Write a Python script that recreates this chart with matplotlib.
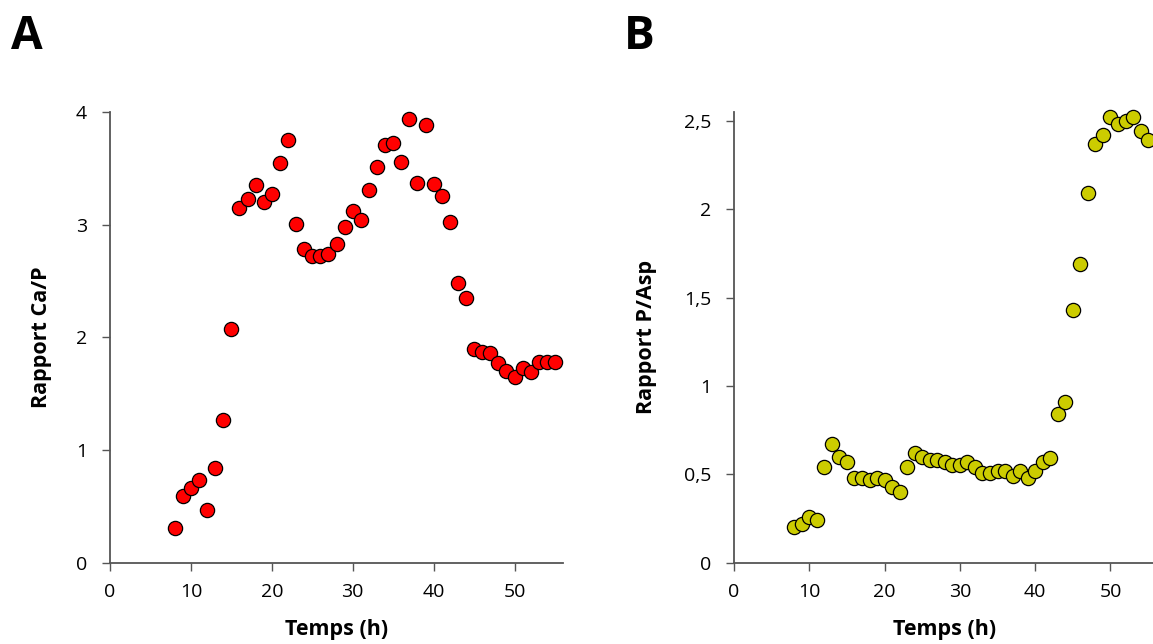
import matplotlib.pyplot as plt

# Panel A : rapport Ca/P
temps_a = list(range(8, 56))
ca_p = [0.31, 0.59, 0.66, 0.73, 0.47, 0.84, 1.27, 2.07, 3.15, 3.23,
        3.35, 3.20, 3.27, 3.55, 3.75, 3.01, 2.78, 2.72, 2.72, 2.74,
        2.83, 2.98, 3.12, 3.04, 3.31, 3.51, 3.71, 3.72, 3.56, 3.94,
        3.37, 3.88, 3.36, 3.25, 3.02, 2.48, 2.35, 1.90, 1.87, 1.86,
        1.77, 1.70, 1.65, 1.73, 1.69, 1.78, 1.78, 1.78]

# Panel B : rapport P/Asp
temps_b = list(range(8, 56))
p_asp = [0.20, 0.22, 0.26, 0.24, 0.54, 0.67, 0.60, 0.57, 0.48, 0.48,
         0.47, 0.48, 0.47, 0.43, 0.40, 0.54, 0.62, 0.60, 0.58, 0.58,
         0.57, 0.55, 0.55, 0.57, 0.54, 0.51, 0.51, 0.52, 0.52, 0.49,
         0.52, 0.48, 0.52, 0.57, 0.59, 0.84, 0.91, 1.43, 1.69, 2.09,
         2.37, 2.42, 2.52, 2.48, 2.50, 2.52, 2.44, 2.39]

x_ticks = [0, 10, 20, 30, 40, 50]
ya_ticks = [0, 1, 2, 3, 4]
yb_ticks = [0, 0.5, 1, 1.5, 2, 2.5]
yb_labels = ["0", "0,5", "1", "1,5", "2", "2,5"]

plt.rcParams['font.family'] = ['Open Sans', 'DejaVu Sans']

fig = plt.figure(figsize=(11.53, 6.44), dpi=100)
ax1 = fig.add_axes([0.0954, 0.1262, 0.393, 0.7])
ax2 = fig.add_axes([0.6366, 0.1262, 0.3657, 0.7])


def style(ax):
    for s in ['top', 'right']:
        ax.spines[s].set_visible(False)
    for s in ['left', 'bottom']:
        ax.spines[s].set_color('#555555')
        ax.spines[s].set_linewidth(1.3)
    ax.tick_params(direction='out', length=5.5, width=1, color='#555555',
                   labelsize=14)
    ax.tick_params(axis='x', pad=9)
    ax.tick_params(axis='y', pad=11)
    ax.set_xlabel('Temps (h)', fontsize=15.5, fontweight='bold')
    ax.xaxis.set_label_coords(0.5, -0.125)


ax1.scatter(temps_a, ca_p, s=105, color='#FF0000', edgecolor='black',
            linewidth=0.9, zorder=3, clip_on=False)
ax1.set_xlim(0, 56)
ax1.set_ylim(0, 4)
ax1.set_xticks(x_ticks)
ax1.set_yticks(ya_ticks)
ax1.set_ylabel('Rapport Ca/P', fontsize=15.5, fontweight='bold')
style(ax1)
ax1.yaxis.set_label_coords(-0.128, 0.5)

ax2.scatter(temps_b, p_asp, s=105, color='#CCCC00', edgecolor='black',
            linewidth=0.9, zorder=3, clip_on=False)
ax2.set_xlim(0, 56)
ax2.set_ylim(0, 2.55)
ax2.set_xticks(x_ticks)
ax2.set_yticks(yb_ticks)
ax2.set_yticklabels(yb_labels)
ax2.set_ylabel('Rapport P/Asp', fontsize=15.5, fontweight='bold')
style(ax2)
ax2.yaxis.set_label_coords(-0.183, 0.5)

fig.text(0.0095, 0.944, 'A', fontsize=33, fontweight='bold', va='center')
fig.text(0.541, 0.944, 'B', fontsize=33, fontweight='bold', va='center')

fig.savefig('out.png', dpi=100)
